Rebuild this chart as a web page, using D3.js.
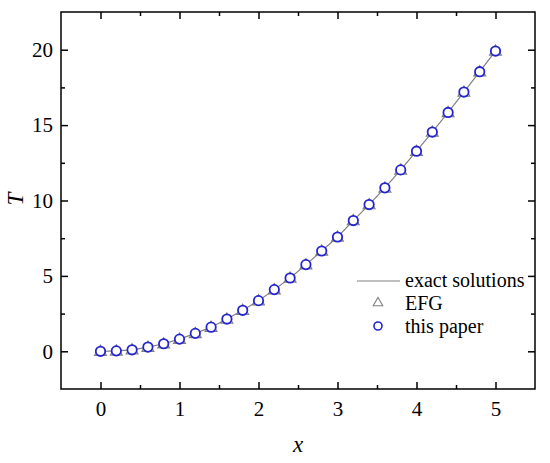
<!DOCTYPE html>
<html><head><meta charset="utf-8">
<script src="https://cdn.jsdelivr.net/npm/d3@7"></script>
<style>body{margin:0;background:#fff}svg{display:block}</style>
</head><body>
<svg id="c" width="550" height="463"></svg>
<script>
const xValues = [0,0.2,0.4,0.6,0.8,1.0,1.2,1.4,1.6,1.8,2.0,2.2,2.4,2.6,2.8,3.0,3.2,3.4,3.6,3.8,4.0,4.2,4.4,4.6,4.8,5.0];
const exactT = [0,0.03,0.1,0.28,0.5,0.81,1.19,1.6,2.14,2.72,3.36,4.09,4.86,5.75,6.65,7.58,8.67,9.73,10.84,12.03,13.27,14.54,15.84,17.19,18.54,19.91];
const efgT   = [0,0.03,0.1,0.28,0.5,0.81,1.19,1.6,2.14,2.72,3.36,4.09,4.86,5.75,6.65,7.58,8.67,9.73,10.84,12.03,13.27,14.54,15.84,17.19,18.54,19.91];
const paperT = [0,0.03,0.1,0.28,0.5,0.81,1.19,1.6,2.14,2.72,3.36,4.09,4.86,5.75,6.65,7.58,8.67,9.73,10.84,12.03,13.27,14.54,15.84,17.19,18.54,19.91];
const xTicks = [0,1,2,3,4,5];
const yTicks = [0,5,10,15,20];
const legendLabels = ["exact solutions","EFG","this paper"];

const svg = d3.select("#c");
const L=61, R=535, T=12, B=389;
const x = d3.scaleLinear().domain([-0.5,5.5]).range([L,R]);
const y = d3.scaleLinear().domain([-2.5,22.5]).range([B,T]);
const font = "Liberation Serif, Times New Roman, Times, serif";
const blue = "#2424d0", gray = "#808080";

const xMinor = d3.range(-0.5,5.51,0.5).filter(v=>!xTicks.includes(v) && v>-0.5 && v<5.5);
const yMinor = d3.range(-2.5,22.51,2.5).filter(v=>!yTicks.includes(v) && v>-2.5 && v<22.5);

const g = svg.append("g");
function addAxis(axisFn, scale, ticks, len, transform, labels, pad){
  const a = axisFn(scale).tickValues(ticks).tickSizeInner(-len).tickSizeOuter(0).tickPadding(pad||8)
    .tickFormat(labels ? d3.format("d") : "");
  const ax = g.append("g").attr("transform",transform).call(a);
  ax.attr("font-family",font).attr("font-size",21);
  ax.select(".domain").remove();
  ax.selectAll(".tick line").attr("stroke","#000").attr("stroke-width",1.5);
  ax.selectAll(".tick text").attr("fill","#000");
  return ax;
}
addAxis(d3.axisBottom, x, xTicks, 7, `translate(0,${B})`, true, 12);
addAxis(d3.axisBottom, x, xMinor, 4, `translate(0,${B})`, false);
addAxis(d3.axisTop, x, xTicks, 7, `translate(0,${T})`, false);
addAxis(d3.axisTop, x, xMinor, 4, `translate(0,${T})`, false);
addAxis(d3.axisLeft, y, yTicks, 7, `translate(${L},0)`, true, 8);
addAxis(d3.axisLeft, y, yMinor, 4, `translate(${L},0)`, false);
addAxis(d3.axisRight, y, yTicks, 7, `translate(${R},0)`, false);
addAxis(d3.axisRight, y, yMinor, 4, `translate(${R},0)`, false);

g.append("rect").attr("x",L).attr("y",T).attr("width",R-L).attr("height",B-T)
  .attr("fill","none").attr("stroke","#000").attr("stroke-width",1.5);

const line = d3.line().x((d,i)=>x(xValues[i])).y(d=>y(d));
g.append("path").datum(exactT).attr("d",line).attr("fill","none").attr("stroke",gray).attr("stroke-width",1.2);

const tri = d3.symbol().type(d3.symbolTriangle).size(60);
g.selectAll(".tri").data(efgT).join("path")
  .attr("transform",(d,i)=>`translate(${x(xValues[i])},${y(d)+0.8})`)
  .attr("d",tri).attr("fill","none").attr("stroke",gray).attr("stroke-width",1.2);

g.selectAll(".cir").data(paperT).join("circle")
  .attr("cx",(d,i)=>x(xValues[i])).attr("cy",d=>y(d)).attr("r",4.7)
  .attr("fill","#fff").attr("stroke",blue).attr("stroke-width",1.8);

const lg = svg.append("g").attr("font-family",font).attr("font-size",20);
const lx=405, markY=[281,303,326], textY=[287,310,333];
lg.append("line").attr("x1",357).attr("x2",400).attr("y1",markY[0]).attr("y2",markY[0]).attr("stroke",gray).attr("stroke-width",1.2);
lg.append("path").attr("d",d3.symbol().type(d3.symbolTriangle).size(40)()).attr("transform",`translate(378,${markY[1]})`)
  .attr("fill","none").attr("stroke",gray).attr("stroke-width",1.1);
lg.append("circle").attr("cx",378).attr("cy",markY[2]).attr("r",4).attr("fill","none").attr("stroke",blue).attr("stroke-width",1.6);
lg.selectAll("text").data(legendLabels).join("text")
  .attr("x",lx).attr("y",(d,i)=>textY[i]).text(d=>d).attr("fill","#000");

const tg = svg.append("g").attr("font-family",font).attr("font-size",23).attr("font-style","italic");
tg.append("text").attr("x",298).attr("y",452).attr("text-anchor","middle").text("x");
tg.append("text").attr("transform","translate(23,199) rotate(-90)").attr("text-anchor","middle").text("T");
</script>
</body></html>
